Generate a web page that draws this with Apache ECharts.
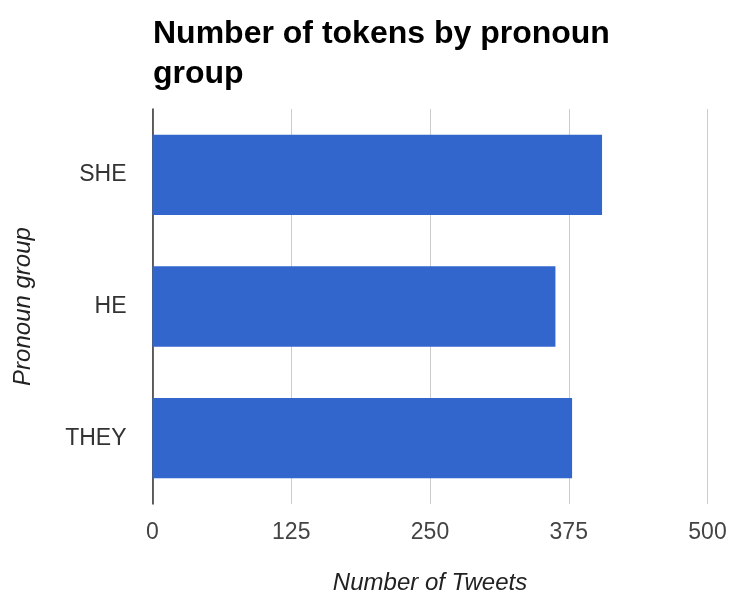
<!DOCTYPE html>
<html>
<head>
<meta charset="utf-8">
<script src="https://cdn.jsdelivr.net/npm/echarts@6/dist/echarts.min.js"></script>
<style>
  html, body { margin: 0; padding: 0; background: #fff; }
  #chart { width: 731px; height: 597px; }
</style>
</head>
<body>
<div id="chart"></div>
<script>
// Pronoun groups, listed top to bottom
const categories = ['SHE', 'HE', 'THEY'];
// Token counts per group
const tokenCounts = [405, 363, 378];
// Value axis ticks
const xTicks = [0, 125, 250, 375, 500];

const FONT = 'Liberation Sans, Arial, sans-serif';
const chart = echarts.init(document.getElementById('chart'), null, { renderer: 'canvas' });

chart.setOption({
  backgroundColor: '#ffffff',
  animation: false,
  textStyle: { fontFamily: FONT },
  title: {
    text: 'Number of tokens by pronoun\ngroup',
    left: 148,
    top: 9,
    textStyle: {
      fontFamily: FONT,
      fontWeight: 'bold',
      fontSize: 32,
      lineHeight: 40,
      color: '#000000'
    }
  },
  grid: {
    left: 152.5,
    right: 23.5,
    top: 109,
    bottom: 93,
    containLabel: false,
    outerBoundsMode: 'none'
  },
  xAxis: {
    type: 'value',
    min: xTicks[0],
    max: xTicks[xTicks.length - 1],
    interval: xTicks[1] - xTicks[0],
    name: 'Number of Tweets',
    nameLocation: 'middle',
    nameGap: 67,
    nameTextStyle: {
      fontFamily: FONT,
      fontStyle: 'italic',
      fontSize: 24,
      color: '#222222'
    },
    axisLine: { show: false },
    axisTick: { show: false },
    axisLabel: {
      fontSize: 23,
      color: '#444444',
      margin: 17
    },
    splitLine: { show: true, lineStyle: { color: '#cccccc', width: 1 } }
  },
  yAxis: {
    type: 'category',
    data: categories,
    inverse: true,
    name: 'Pronoun group',
    nameLocation: 'middle',
    nameGap: 117,
    nameRotate: 90,
    nameTextStyle: {
      fontFamily: FONT,
      fontStyle: 'italic',
      fontSize: 24,
      color: '#222222'
    },
    axisLine: { show: true, lineStyle: { color: '#333333', width: 1.5 } },
    axisTick: { show: false },
    axisLabel: {
      fontSize: 23,
      color: '#333333',
      margin: 26
    }
  },
  series: [{
    type: 'bar',
    data: tokenCounts,
    barCategoryGap: '39%',
    itemStyle: { color: '#3366cc' }
  }]
});
</script>
</body>
</html>
